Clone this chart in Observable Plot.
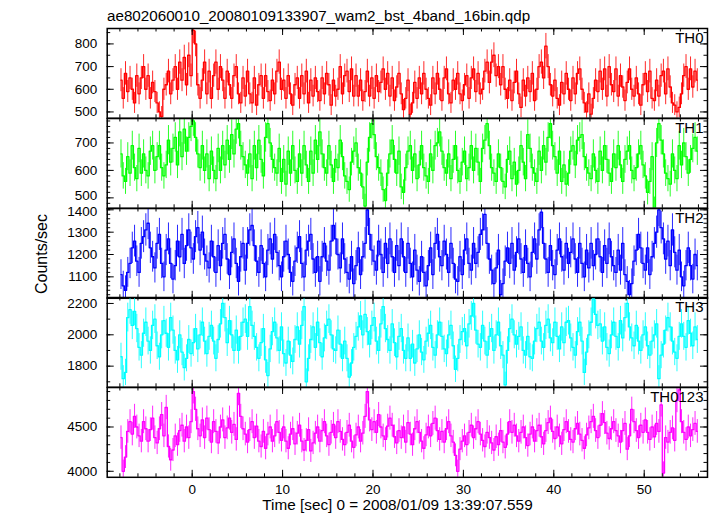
<!DOCTYPE html>
<html><head><meta charset="utf-8">
<script src="https://cdn.jsdelivr.net/npm/d3@7"></script>
<script src="https://cdn.jsdelivr.net/npm/@observablehq/plot@0.6"></script>
<style>
html,body{margin:0;padding:0;background:#fff;}
#chart{position:relative;width:717px;height:516px;overflow:hidden;font-family:"Liberation Sans",Arial,Helvetica,sans-serif;}
#chart > svg{position:absolute;left:0;}
</style></head><body><div id="chart"></div>
<script>
const titleText = "ae802060010_20080109133907_wam2_bst_4band_16bin.qdp";
const xLabel = "Time [sec] 0 = 2008/01/09 13:39:07.559";
const yLabel = "Counts/sec";
const binStart = -8, binWidth = 0.25;

const th0 = [
640,560,670,590,650,600,540,660, 580,650,700,600,660,560,630,590,
540,500,480,600,620,680,580,640, 700,600,720,640,740,620,750,660,
860,800,620,560,640,720,580,680, 560,660,720,600,700,640,560,680,
620,560,660,700,580,540,650,570, 680,580,540,650,530,620,660,560,
660,590,550,640,580,680,720,600, 640,560,660,580,530,620,650,560,
660,580,680,540,640,570,650,590, 550,650,580,670,620,530,640,570,
600,700,580,660,680,590,690,570, 660,570,640,550,590,680,570,650,
560,660,590,630,690,600,670,570, 650,550,610,670,580,510,560,640,
490,540,630,560,650,580,670,600, 560,530,650,580,670,600,550,650,
690,580,540,640,600,670,580,550, 620,660,560,650,690,590,670,580,
600,680,720,630,720,750,660,700, 620,700,600,560,640,550,630,680,
580,520,640,570,650,590,670,550, 600,700,720,650,790,700,620,570,
640,560,530,630,580,670,600,550, 650,580,670,690,600,540,500,580,
490,560,640,590,680,600,690,570, 700,620,590,690,570,660,610,550,
630,690,600,570,650,580,530,620, 670,590,680,560,550,640,570,660,
680,580,690,610,540,530,500,520, 580,660,700,600,690,610,680,640];

const th1 = [
660,580,560,650,590,690,610,570, 680,590,660,600,580,670,690,600,
650,690,610,580,620,710,630,680, 720,620,740,650,750,670,720,760,
780,720,660,610,690,600,660,570, 670,600,570,680,600,690,620,710,
640,730,660,750,770,690,650,620, 590,660,570,690,610,710,640,580,
720,770,700,640,610,590,680,560, 640,550,670,590,690,600,560,660,
590,690,620,560,670,590,710,640, 740,660,610,590,690,620,560,640,
610,710,650,580,560,530,630,670, 700,610,590,540,470,630,720,770,
730,650,610,590,530,490,590,660, 710,640,590,670,540,520,610,670,
690,600,660,570,620,690,610,580, 560,660,600,690,700,740,670,610,
590,660,570,640,690,600,560,630, 670,570,610,690,600,680,630,560,
680,710,770,690,610,590,560,660, 610,560,540,640,670,570,630,550,
600,690,630,570,730,680,610,590, 560,670,600,690,630,720,770,690,
650,590,670,560,620,550,590,670, 690,620,710,720,730,650,610,590,
570,660,600,560,670,600,690,640, 590,560,660,610,690,620,560,640,
670,690,600,570,610,660,690,620, 580,520,560,650,460,700,770,710,
660,590,570,550,660,600,570,690, 620,700,650,590,640,680,720,670];

const th2 = [
1110,1060,1040,1120,1160,1230,1260,1170, 1120,1250,1280,1310,1340,1230,1190,1140,
1250,1290,1160,1100,1220,1270,1160,1090, 1150,1260,1190,1290,1160,1240,1310,1230,
1180,1280,1320,1220,1300,1200,1170,1140, 1260,1190,1120,1240,1150,1250,1290,1180,
1110,1210,1270,1160,1080,1190,1250,1130, 1250,1310,1330,1240,1170,1120,1240,1160,
1100,1220,1270,1180,1290,1210,1150,1100, 1190,1260,1200,1120,1080,1170,1230,1280,
1160,1100,1220,1260,1290,1180,1120,1190, 1080,1190,1250,1170,1130,1260,1330,1270,
1200,1140,1270,1180,1120,1090,1190,1070, 1150,1230,1110,1190,1250,1400,1290,1220,
1170,1130,1260,1200,1120,1250,1160,1270, 1190,1120,1240,1150,1270,1190,1120,1250,
1160,1100,1220,1130,1080,1190,1120,1060, 1150,1230,1110,1250,1290,1190,1150,1260,
1200,1120,1250,1160,1090,1080,1190,1110, 1220,1270,1160,1130,1250,1160,1210,1290,
1310,1380,1250,1180,1130,1070,1140,1220, 1020,1070,1170,1230,1160,1250,1130,1210,
1270,1180,1120,1240,1160,1100,1210,1270, 1180,1310,1390,1250,1180,1120,1240,1150,
1110,1220,1270,1190,1130,1250,1160,1210, 1270,1180,1120,1250,1160,1100,1220,1140,
1250,1150,1200,1270,1190,1120,1240,1160, 1270,1190,1150,1120,1220,1130,1250,1110,
1080,1020,1070,1170,1220,1290,1230,1160, 1130,1230,1110,1190,1250,1300,1400,1320,
1270,1180,1260,1150,1310,1210,1130,1220, 1100,1060,1150,1230,1150,1090,1200,1150];

const th3 = [
1860,1720,1760,2110,2160,2060,2150,2040, 1920,1870,2010,2080,1960,1900,2060,2100,
1930,1860,2000,2090,2010,1920,2110,2030, 1900,1840,2000,1890,1790,1850,1970,1880,
1950,2040,1910,2000,2080,1960,1880,1990, 2060,1960,1850,1970,2070,2200,2110,1950,
2090,2000,1900,2030,1900,1990,2080,2100, 1990,2180,2060,1990,1920,1850,1950,2040,
1840,1740,1910,2020,2080,1980,1900,2050, 1880,1820,1960,1870,1830,1970,2050,1940,
2060,2180,1700,1850,1970,2050,1920,2080, 1950,1860,1980,2060,2100,2000,1910,1900,
2030,1940,1850,1960,1850,1730,1820,1920, 1990,2050,2120,2000,2130,2020,1940,2060,
2110,1960,1900,2070,2180,2040,1970,1900, 2070,1950,1860,1990,2040,1900,1850,1980,
1850,1940,1820,1910,2000,1890,1840,1960, 2010,2060,1920,1870,2000,2080,1990,1910,
1880,2000,2060,1930,1780,1850,1970,2020, 2040,1930,2070,2120,2200,2030,1940,1920,
2060,1960,1870,1990,2040,1900,2000,2080, 1930,1870,1680,1900,2040,2100,2000,1940,
1990,2050,1900,1870,1990,1860,1850,1960, 2040,2080,1960,1920,2060,2100,1980,1950,
2080,1990,1910,2050,1950,2080,2090,1980, 1920,1870,2020,2080,1960,1760,1890,2000,
2080,2230,2130,2060,2070,1960,2050,1920, 1880,2000,2080,1990,1920,2090,1980,2110,
2200,2050,1980,1930,2060,1960,1900,2000, 2050,1930,1870,1960,2000,2070,1720,1870,
1940,2030,2110,2050,1960,1890,1850,1990, 2070,1990,1920,2090,2010,1930,2050,1970];

const th0123 = [
4380,4000,4160,4450,4560,4420,4620,4500, 4400,4340,4560,4480,4340,4470,4600,4380,
4320,4480,4640,4400,4720,4280,4130,4240, 4400,4300,4460,4520,4340,4500,4380,4560,
4900,4700,4480,4400,4580,4380,4600,4470, 4330,4560,4450,4320,4500,4580,4380,4490,
4600,4440,4530,4360,4880,4620,4480,4420, 4330,4470,4560,4380,4510,4340,4280,4450,
4260,4420,4500,4340,4400,4560,4440,4350, 4500,4340,4260,4420,4480,4310,4430,4520,
4340,4240,4350,4470,4230,4320,4430,4500, 4340,4460,4560,4400,4300,4440,4530,4380,
4560,4450,4360,4300,4440,4520,4340,4270, 4410,4500,4340,4430,4620,4900,4580,4470,
4560,4440,4640,4500,4400,4360,4510,4600, 4520,4390,4320,4460,4380,4500,4330,4550,
4420,4300,4480,4560,4440,4340,4260,4410, 4500,4400,4540,4600,4460,4360,4450,4330,
4480,4560,4400,4330,4180,4000,4250,4340, 4400,4300,4440,4520,4380,4480,4560,4420,
4350,4280,4440,4380,4320,4240,4390,4300, 4460,4330,4270,4420,4560,4440,4520,4400,
4340,4440,4500,4380,4290,4420,4500,4340, 4460,4520,4390,4310,4460,4550,4600,4450,
4370,4500,4400,4310,4470,4560,4450,4360, 4330,4480,4540,4420,4350,4260,4410,4490,
4560,4620,4460,4380,4520,4650,4550,4430, 4370,4480,4560,4460,4400,4330,4460,4540,
4250,4400,4700,4560,4460,4380,4520,4440, 4580,4440,4360,4500,4390,4540,4450,4750,
3980,4380,4330,4440,4490,4350,4800,4920, 4560,4440,4360,4500,4400,4470,4540,4450];

const panelLabels = ["TH0", "TH1", "TH2", "TH3", "TH0123"];
const panelColors = ["#ff0000", "#00ff00", "#0000ff", "#00ffff", "#ff00ff"];
const yDomains = [[472, 868], [462, 789], [1004, 1406], [1665, 2238], [3932, 4946]];
const yMajorTicks = [[500, 600, 700, 800], [500, 600, 700], [1100, 1200, 1300, 1400], [1800, 2000, 2200], [4000, 4500]];
const yMinorSteps = [50, 20, 20, 100, 100];
const xMajorTicks = [0, 10, 20, 30, 40, 50];
const xMinorStep = 2;
const xDomain = [-9.4, 57];

const series = [th0, th1, th2, th3, th0123];

// layout
const W = 717, ML = 106.7, MR = 10;
const frameTops = [28, 117.8, 207.6, 297.4, 387.2];
const frameH = 89.8;
const pad = 12;
const innerW = W - ML - MR;
const fontFamily = '"Liberation Sans", Arial, Helvetica, sans-serif';
const chart = document.getElementById("chart");

series.forEach((vals, k) => {
  const data = vals.map((v, i) => ({t: binStart + binWidth * (i + 0.5), v, e: Math.sqrt(v / binWidth)}));
  const bottom = k === series.length - 1;
  const mb = bottom ? 32 : pad;
  const [y0, y1] = yDomains[k];
  const step = yMinorSteps[k];
  const yMinor = d3.range(Math.ceil(y0 / step) * step, y1, step);
  const yMajor = yMajorTicks[k];
  const xMinor = d3.range(Math.ceil(xDomain[0] / xMinorStep) * xMinorStep, xDomain[1], xMinorStep);
  const color = panelColors[k];
  // keep labels that sit right at a shared panel border from touching their neighbours
  const nearTop = yMajor.filter(v => (y1 - v) / (y1 - y0) < 0.03);
  const nearBottom = yMajor.filter(v => (v - y0) / (y1 - y0) < 0.15 && k === 1);
  const regular = yMajor.filter(v => !nearTop.includes(v) && !nearBottom.includes(v));
  const marks = [
    Plot.ruleX(data, {x: "t", y1: d => d.v - d.e, y2: d => d.v + d.e, stroke: color, strokeWidth: 1, strokeOpacity: 0.85, clip: true}),
    Plot.line(data, {x: "t", y: "v", curve: "step", stroke: color, strokeWidth: 1.3, clip: true}),
    Plot.tickY(yMajor, {y: d => d, insetRight: innerW - 7, stroke: "#000"}),
    Plot.tickY(yMinor, {y: d => d, insetRight: innerW - 3.5, stroke: "#000"}),
    Plot.tickY(yMajor, {y: d => d, insetLeft: innerW - 7, stroke: "#000"}),
    Plot.tickY(yMinor, {y: d => d, insetLeft: innerW - 3.5, stroke: "#000"}),
    Plot.tickX(xMajorTicks, {x: d => d, insetBottom: frameH - 7, stroke: "#000"}),
    Plot.tickX(xMinor, {x: d => d, insetBottom: frameH - 3.5, stroke: "#000"}),
    Plot.tickX(xMajorTicks, {x: d => d, insetTop: frameH - 7, stroke: "#000"}),
    Plot.tickX(xMinor, {x: d => d, insetTop: frameH - 3.5, stroke: "#000"}),
    Plot.frame({stroke: "#000", strokeWidth: 1.5}),
    Plot.axisY({ticks: regular, tickSize: 0, tickPadding: 10, label: null, tickFormat: d => String(d)}),
    Plot.text([panelLabels[k]], {frameAnchor: "top-right", dx: -4, dy: 15, lineAnchor: "bottom", textAnchor: "end", fontSize: 15, fill: "#000"})
  ];
  if (nearTop.length) marks.push(Plot.axisY({ticks: nearTop, tickSize: 0, tickPadding: 10, label: null, dy: 2, tickFormat: d => String(d)}));
  if (nearBottom.length) marks.push(Plot.axisY({ticks: nearBottom, tickSize: 0, tickPadding: 10, label: null, dy: -2, tickFormat: d => String(d)}));
  if (bottom) marks.push(Plot.axisX({ticks: xMajorTicks, tickSize: 0, tickPadding: 7, label: null, tickFormat: d => String(d)}));
  const p = Plot.plot({
    width: W,
    height: frameH + pad + mb,
    marginLeft: ML, marginRight: MR, marginTop: pad, marginBottom: mb,
    x: {domain: xDomain, axis: bottom ? undefined : null},
    y: {domain: yDomains[k]},
    style: {background: "transparent", overflow: "visible", fontSize: "13.5px", fontFamily, color: "#000"},
    marks
  });
  p.style.top = (frameTops[k] - pad) + "px";
  chart.appendChild(p);
});

// overlay texts
const ov = d3.create("svg").attr("width", W).attr("height", 516)
  .style("top", "0px").style("pointer-events", "none")
  .attr("font-family", fontFamily).attr("fill", "#000");
ov.append("text").attr("x", 107).attr("y", 20.5).attr("font-size", 15.2).text(titleText);
ov.append("text").attr("x", 397.5).attr("y", 510).attr("font-size", 15.3).attr("text-anchor", "middle").text(xLabel);
ov.append("text").attr("transform", "translate(47,254) rotate(-90)").attr("font-size", 16).attr("text-anchor", "middle").text(yLabel);
chart.appendChild(ov.node());
</script>
</body></html>
